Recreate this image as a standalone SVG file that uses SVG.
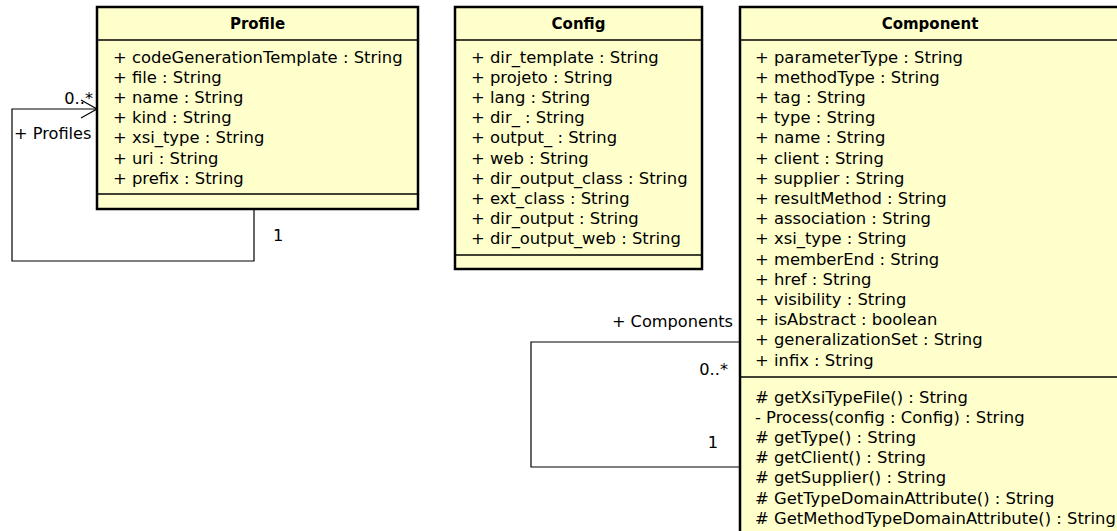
<svg xmlns="http://www.w3.org/2000/svg" width="1117" height="531" viewBox="0 0 1117 531">
  <style>
    .box { fill: #FFFFCC; stroke: #000; stroke-width: 2.5; }
    .sep { stroke: #000; stroke-width: 1.5; }
    .title { font-family: "DejaVu Sans", "Liberation Sans", sans-serif; font-size: 15px; font-weight: bold; text-anchor: middle; fill: #000; }
    .mem { font-family: "DejaVu Sans", "Liberation Sans", sans-serif; font-size: 16.4px; fill: #000; }
    .lbl { font-family: "DejaVu Sans", "Liberation Sans", sans-serif; font-size: 16.2px; fill: #000; }
    .edge { fill: none; stroke: #000; stroke-width: 1.2; }
  </style>

  <!-- association loops -->
  <g id="connectors">
    <g id="profile-self">
      <polyline class="edge" points="97,109 12,109 12,261 254,261 254,209"/>
      <polyline class="edge" points="81,100 97,109 81,118"/>
      <text class="lbl" x="93" y="104" text-anchor="end">0..*</text>
      <text class="lbl" x="14" y="139">+ Profiles</text>
      <text class="lbl" x="273" y="241">1</text>
    </g>
    <g id="component-self">
      <polyline class="edge" points="740,342 531,342 531,467 740,467"/>
      <text class="lbl" x="733" y="327" text-anchor="end">+ Components</text>
      <text class="lbl" x="728" y="375" text-anchor="end">0..*</text>
      <text class="lbl" x="718" y="448" text-anchor="end">1</text>
    </g>
  </g>

  <!-- Profile class -->
  <g id="Profile">
    <rect class="box" x="97" y="7" width="321" height="202"/>
    <line class="sep" x1="97" y1="40" x2="418" y2="40"/>
    <line class="sep" x1="97" y1="194" x2="418" y2="194"/>
    <text class="title" x="257.5" y="29">Profile</text>
    <text class="mem" x="113" y="62.5">+ codeGenerationTemplate : String</text>
    <text class="mem" x="113" y="82.7">+ file : String</text>
    <text class="mem" x="113" y="102.9">+ name : String</text>
    <text class="mem" x="113" y="123.1">+ kind : String</text>
    <text class="mem" x="113" y="143.3">+ xsi_type : String</text>
    <text class="mem" x="113" y="163.5">+ uri : String</text>
    <text class="mem" x="113" y="183.7">+ prefix : String</text>
  </g>

  <!-- Config class -->
  <g id="Config">
    <rect class="box" x="455" y="7" width="247" height="262"/>
    <line class="sep" x1="455" y1="40" x2="702" y2="40"/>
    <line class="sep" x1="455" y1="255" x2="702" y2="255"/>
    <text class="title" x="578.5" y="29">Config</text>
    <text class="mem" x="471" y="62.5">+ dir_template : String</text>
    <text class="mem" x="471" y="82.7">+ projeto : String</text>
    <text class="mem" x="471" y="102.9">+ lang : String</text>
    <text class="mem" x="471" y="123.1">+ dir_ : String</text>
    <text class="mem" x="471" y="143.3">+ output_ : String</text>
    <text class="mem" x="471" y="163.5">+ web : String</text>
    <text class="mem" x="471" y="183.7">+ dir_output_class : String</text>
    <text class="mem" x="471" y="203.9">+ ext_class : String</text>
    <text class="mem" x="471" y="224.1">+ dir_output : String</text>
    <text class="mem" x="471" y="244.3">+ dir_output_web : String</text>
  </g>

  <!-- Component class -->
  <g id="Component">
    <rect class="box" x="740" y="7" width="386" height="540"/>
    <line class="sep" x1="740" y1="40" x2="1126" y2="40"/>
    <line class="sep" x1="740" y1="377" x2="1126" y2="377"/>
    <text class="title" x="930" y="29">Component</text>
    <text class="mem" x="755" y="62.5">+ parameterType : String</text>
    <text class="mem" x="755" y="82.7">+ methodType : String</text>
    <text class="mem" x="755" y="102.9">+ tag : String</text>
    <text class="mem" x="755" y="123.1">+ type : String</text>
    <text class="mem" x="755" y="143.3">+ name : String</text>
    <text class="mem" x="755" y="163.5">+ client : String</text>
    <text class="mem" x="755" y="183.7">+ supplier : String</text>
    <text class="mem" x="755" y="203.9">+ resultMethod : String</text>
    <text class="mem" x="755" y="224.1">+ association : String</text>
    <text class="mem" x="755" y="244.3">+ xsi_type : String</text>
    <text class="mem" x="755" y="264.5">+ memberEnd : String</text>
    <text class="mem" x="755" y="284.7">+ href : String</text>
    <text class="mem" x="755" y="304.9">+ visibility : String</text>
    <text class="mem" x="755" y="325.1">+ isAbstract : boolean</text>
    <text class="mem" x="755" y="345.3">+ generalizationSet : String</text>
    <text class="mem" x="755" y="365.5">+ infix : String</text>
    <text class="mem" x="755" y="402.5"># getXsiTypeFile() : String</text>
    <text class="mem" x="755" y="422.7">- Process(config : Config) : String</text>
    <text class="mem" x="755" y="442.9"># getType() : String</text>
    <text class="mem" x="755" y="463.1"># getClient() : String</text>
    <text class="mem" x="755" y="483.3"># getSupplier() : String</text>
    <text class="mem" x="755" y="503.5"># GetTypeDomainAttribute() : String</text>
    <text class="mem" x="755" y="523.7"># GetMethodTypeDomainAttribute() : String</text>
  </g>
</svg>
